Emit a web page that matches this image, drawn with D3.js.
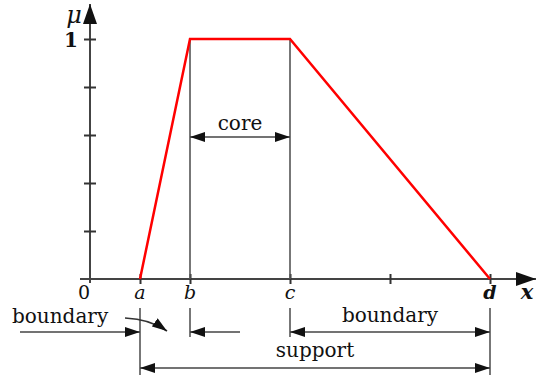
<!DOCTYPE html>
<html>
<head>
<meta charset="utf-8">
<script src="https://cdn.jsdelivr.net/npm/d3@7"></script>
<style>
  body { margin: 0; background: #fff; }
  text { font-family: "DejaVu Serif", serif; fill: #111; }
</style>
</head>
<body>
<svg id="chart"></svg>
<script>
var w = 541;
var h = 375;

// trapezoidal membership function
var memX = [1, 2, 4, 8];
var memMu = [0, 1, 1, 0];

// axis ticks and labels
var xTicks = [1, 2, 4, 6, 8];
var xLabelPos = [0, 1, 2, 4, 8];
var xLabels = ["0", "a", "b", "c", "d"];
var muTicks = [0.2, 0.4, 0.6, 0.8, 1];

// dimension annotations: [from, to]
var spanCore = [2, 4];
var spanBoundL = [-1.4, 1];
var spanBoundB = [3, 2];
var spanBoundR = [4, 8];
var spanSupport = [1, 8];

var x = d3.scaleLinear().domain([0, 8]).range([90, 490]);
var y = d3.scaleLinear().domain([0, 1]).range([279, 39]);

var svg = d3.select("#chart").attr("width", w).attr("height", h);

var defs = svg.append("defs");
defs.append("marker").attr("id", "arr")
  .attr("markerUnits", "userSpaceOnUse")
  .attr("viewBox", "0 0 15 10").attr("refX", 15).attr("refY", 5)
  .attr("markerWidth", 15).attr("markerHeight", 10)
  .attr("orient", "auto-start-reverse")
  .append("path").attr("d", "M0,0L15,5L0,10Z").attr("fill", "#111");
defs.append("marker").attr("id", "big")
  .attr("markerUnits", "userSpaceOnUse")
  .attr("viewBox", "0 0 20 14").attr("refX", 20).attr("refY", 7)
  .attr("markerWidth", 20).attr("markerHeight", 14)
  .attr("orient", "auto")
  .append("path").attr("d", "M0,0L20,7L0,14Z").attr("fill", "#111");

// axes
svg.append("line").attr("x1", x(-0.2)).attr("x2", 536).attr("y1", y(0)).attr("y2", y(0))
  .attr("stroke", "#444").attr("stroke-width", 2).attr("marker-end", "url(#big)");
svg.append("line").attr("x1", x(0)).attr("x2", x(0)).attr("y1", y(0) + 4).attr("y2", 4)
  .attr("stroke", "#444").attr("stroke-width", 2).attr("marker-end", "url(#big)");

var yAxis = d3.axisLeft(y).tickValues(muTicks).tickSize(12).tickFormat("");
var gY = svg.append("g").attr("transform", "translate(" + (x(0) + 6) + ",0)").call(yAxis);
var xAxis = d3.axisTop(x).tickValues(xTicks).tickSize(10).tickFormat("");
var gX = svg.append("g").attr("transform", "translate(0," + (y(0) + 5) + ")").call(xAxis);
[gX, gY].forEach(function(g) {
  g.select(".domain").remove();
  g.selectAll(".tick line").attr("stroke", "#333").attr("stroke-width", 2);
});

// guide lines at b and c
svg.selectAll(".guide").data(spanCore).enter().append("line")
  .attr("x1", function(d) { return x(d); }).attr("x2", function(d) { return x(d); })
  .attr("y1", y(1)).attr("y2", y(0))
  .attr("stroke", "#555").attr("stroke-width", 1.6);

// membership trapezoid
var line = d3.line().x(function(d) { return x(d[0]); }).y(function(d) { return y(d[1]); });
svg.append("path").attr("d", line(d3.zip(memX, memMu)))
  .attr("fill", "none").attr("stroke", "#f00").attr("stroke-width", 2.5)
  .attr("stroke-linejoin", "miter");

// axis labels
svg.selectAll(".xl").data(xLabels).enter().append("text")
  .attr("x", function(d, i) { return x(xLabelPos[i]) - (i === 0 ? 6 : 0); })
  .attr("y", 299).attr("text-anchor", "middle").attr("font-size", 19)
  .attr("font-style", function(d, i) { return i === 0 ? "normal" : "italic"; })
  .attr("font-weight", function(d) { return d === "d" ? "bold" : "normal"; })
  .text(function(d) { return d; });
svg.append("text").attr("x", 527).attr("y", 299).attr("text-anchor", "middle")
  .attr("font-size", 21).attr("font-style", "italic").attr("font-weight", "bold").text("x");
svg.append("text").attr("x", 74).attr("y", 23).attr("text-anchor", "middle")
  .attr("font-size", 24).attr("font-style", "italic").text("μ");
svg.append("text").attr("x", 78).attr("y", y(1) + 8).attr("text-anchor", "end")
  .attr("font-size", 20).attr("font-weight", "bold").text("1");

// dimension lines
function vline(xv, y1, y2) {
  svg.append("line").attr("x1", x(xv)).attr("x2", x(xv)).attr("y1", y1).attr("y2", y2)
    .attr("stroke", "#555").attr("stroke-width", 1.6);
}
function span(s, yy, both) {
  var l = svg.append("line").attr("x1", x(s[0])).attr("x2", x(s[1])).attr("y1", yy).attr("y2", yy)
    .attr("stroke", "#444").attr("stroke-width", 1.6).attr("marker-end", "url(#arr)");
  if (both) l.attr("marker-start", "url(#arr)");
}

span(spanCore, 137, true);
svg.append("text").attr("x", x(3)).attr("y", 130).attr("text-anchor", "middle")
  .attr("font-size", 20).text("core");

vline(1, 308, 375);
vline(2, 308, 337);
vline(4, 308, 337);
vline(8, 308, 375);

span(spanBoundL, 332, false);
span(spanBoundB, 332, false);
span(spanBoundR, 332, true);
span(spanSupport, 368, true);

svg.append("text").attr("x", x(-1.56)).attr("y", 323).attr("font-size", 20).text("boundary");
svg.append("text").attr("x", x(6)).attr("y", 322).attr("text-anchor", "middle")
  .attr("font-size", 20).text("boundary");
svg.append("text").attr("x", x(4.5)).attr("y", 357).attr("text-anchor", "middle")
  .attr("font-size", 20).text("support");

// curved pointer from left "boundary"
svg.append("path").attr("d", "M" + x(0.7) + ",318Q" + x(1.2) + ",319 " + x(1.54) + ",331")
  .attr("fill", "none").attr("stroke", "#333").attr("stroke-width", 1.6)
  .attr("marker-end", "url(#arr)");
</script>
</body>
</html>
